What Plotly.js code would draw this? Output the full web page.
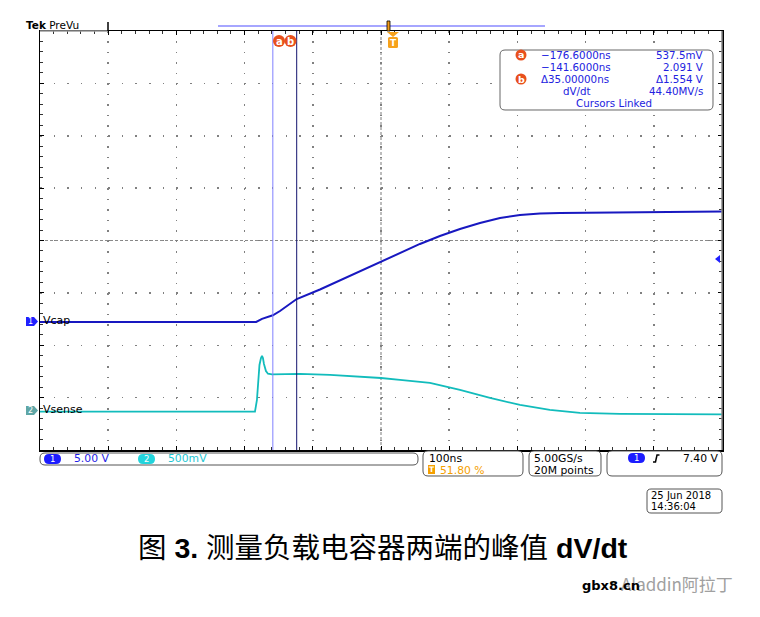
<!DOCTYPE html>
<html><head><meta charset="utf-8">
<script src="https://cdn.plot.ly/plotly-3.0.1.min.js"></script>
<style>html,body{margin:0;padding:0;background:#fff}</style>
</head><body><div id="chart" style="width:760px;height:617px"></div>
<script>
// ---------------- data ----------------
// Channel 1 : Vcap (time in ns, value in V)
const vcapTime  = [-518, -201, -192.5, -176.6, -166.1, -141.6, -107.5, -63.6, -18.0, 9.8, 39.1, 68.4, 97.8, 127.1, 156.5, 185.8, 215.1, 244.4, 303.1, 376.4, 482];
const vcapVolts = [-0.1, -0.1, 0.2, 0.54, 0.95, 2.09, 3.0, 4.3, 5.63, 6.49, 7.35, 8.11, 8.78, 9.35, 9.83, 10.11, 10.26, 10.31, 10.35, 10.40, 10.45];
// Channel 2 : Vsense (time in ns, value in V)
const vsenseTime  = [-518, -202.8, -199.9, -198.4, -196.2, -194.0, -192.5, -191.1, -189.6, -186.7, -183.7, -177.9, -136.8, -92.8, -48.8, -18.0, 9.8, 53.8, 97.8, 141.8, 185.8, 229.6, 273.6, 332.3, 482];
const vsenseVolts = [-0.016, -0.016, 0.095, 0.286, 0.429, 0.496, 0.515, 0.496, 0.439, 0.372, 0.346, 0.339, 0.344, 0.334, 0.320, 0.305, 0.286, 0.258, 0.191, 0.115, 0.048, 0.0, -0.029, -0.038, -0.043];
// cursors (ns)
const cursorTimes = [-176.6, -141.6];
// readout texts
const readoutTimes  = ["\u2212176.6000ns", "\u2212141.6000ns", "\u039435.00000ns", "dV/dt"];
const readoutValues = ["537.5mV", "2.091 V", "\u03941.554 V", "44.40MV/s"];
const readoutFooter = "Cursors Linked";
const channelNames = ["Vcap", "Vsense"];
const statusTexts = {ch1: "5.00 V", ch2: "500mV", timebase: "100ns", trigPos: "51.80 %", rate: "5.00GS/s", points: "20M points", trigLevel: "7.40 V", date: "25 Jun 2018", time: "14:36:04"};
const captionText = "图 <b>3.</b> 测量负载电容器两端的峰值 <b>dV/dt</b>";

// ---------------- scope settings ----------------
const timePerDiv = 100, trigPct = 0.518;
const ch1PerDiv = 5, ch1Offset = 1.536;     // divisions below centre
const ch2PerDiv = 0.5, ch2Offset = 3.235;

// ---------------- pixel helpers for decorations ----------------
const L = 40, R = 722, T = 31, B = 450;
const px = x => (x - L) / (R - L);
const py = y => (B - y) / (B - T);
const P = (x, y) => px(x).toFixed(5) + ',' + py(y).toFixed(5);
function rr(x0, y0, x1, y1, r) {
  return 'M' + P(x0 + r, y0) + ' L' + P(x1 - r, y0) + ' Q' + P(x1, y0) + ' ' + P(x1, y0 + r) +
    ' L' + P(x1, y1 - r) + ' Q' + P(x1, y1) + ' ' + P(x1 - r, y1) +
    ' L' + P(x0 + r, y1) + ' Q' + P(x0, y1) + ' ' + P(x0, y1 - r) +
    ' L' + P(x0, y0 + r) + ' Q' + P(x0, y0) + ' ' + P(x0 + r, y0) + ' Z';
}
function poly(pts) { return 'M' + pts.map(p => P(p[0], p[1])).join(' L') + ' Z'; }
const shapes = [];
const anns = [];
function box(x0, y0, x1, y1, r, line, fill, lw) {
  shapes.push({type: 'path', xref: 'paper', yref: 'paper', path: rr(x0, y0, x1, y1, r),
    line: {color: line || '#555', width: lw === undefined ? 1 : lw}, fillcolor: fill || 'rgba(0,0,0,0)', layer: 'above'});
}
function txt(text, x, y, anchor, size, color, extra) {
  anns.push(Object.assign({text: text, xref: 'paper', yref: 'paper', x: px(x), y: py(y), xanchor: anchor || 'left', yanchor: 'middle',
    showarrow: false, borderpad: 0, font: {family: 'DejaVu Sans', size: size || 10.5, color: color || '#000'}}, extra || {}));
}
function lineP(x0, y0, x1, y1, color, w, dash) {
  shapes.push({type: 'line', xref: 'paper', yref: 'paper', x0: px(x0), y0: py(y0), x1: px(x1), y1: py(y1),
    line: {color: color, width: w, dash: dash || 'solid'}, layer: 'above'});
}

const tMin = -trigPct * 10 * timePerDiv, tMax = tMin + 10 * timePerDiv, tCentre = tMin + 5 * timePerDiv;
const y1Range = [(-4 + ch1Offset) * ch1PerDiv, (4 + ch1Offset) * ch1PerDiv];
const y2Range = [(-4 + ch2Offset) * ch2PerDiv, (4 + ch2Offset) * ch2PerDiv];

// centre dashed lines
shapes.push({type: 'line', xref: 'paper', yref: 'paper', x0: 0, x1: 1, y0: 0.5, y1: 0.5, line: {color: '#8a8a8a', width: 1, dash: '3px,2px'}, layer: 'below'});
shapes.push({type: 'line', xref: 'paper', yref: 'paper', x0: 0.5, x1: 0.5, y0: 0, y1: 1, line: {color: '#7a7a7a', width: 1, dash: '3px,2px'}, layer: 'below'});
// cursors
shapes.push({type: 'line', xref: 'x', yref: 'paper', x0: cursorTimes[0], x1: cursorTimes[0], y0: 0, y1: 1, line: {color: '#8080ff', width: 1}, layer: 'above'});
shapes.push({type: 'line', xref: 'x', yref: 'paper', x0: cursorTimes[1], x1: cursorTimes[1], y0: 0, y1: 1, line: {color: '#14146e', width: 1}, layer: 'above'});
// right border grey, top-left grey segment
lineP(722, 31, 722, 450, '#8c8c8c', 1.5);
lineP(40, 31, 108, 31, '#9a9a9a', 1.5);
lineP(108, 22, 108, 31, '#000', 1.5);
// record bar
lineP(218, 26, 545, 26, '#8888ff', 1.5);
shapes.push({type: 'path', xref: 'paper', yref: 'paper', path: poly([[387, 21], [390, 21], [390, 31], [387, 31]]), fillcolor: '#f29a1a', line: {color: '#000', width: 0.8}, layer: 'above'});
// trigger T marker
shapes.push({type: 'path', xref: 'paper', yref: 'paper', path: poly([[387, 32], [399, 32], [393, 37]]), fillcolor: '#f7a21b', line: {width: 0}, layer: 'above'});
shapes.push({type: 'path', xref: 'paper', yref: 'paper', path: rr(388, 37, 398, 48, 1.5), fillcolor: '#f7a21b', line: {width: 0}, layer: 'above'});
txt('<b>T</b>', 393, 43, 'center', 9, '#fff');
// cursor a/b circles
function circ(cx, cy, r, color) {
  shapes.push({type: 'circle', xref: 'paper', yref: 'paper', x0: px(cx - r), x1: px(cx + r), y0: py(cy + r), y1: py(cy - r), fillcolor: color, line: {width: 0}, layer: 'above'});
}
circ(279, 41, 6, '#e8501c'); circ(290.5, 41, 6, '#e8501c');
txt('<b>a</b>', 279, 41, 'center', 10, '#fff');
txt('<b>b</b>', 290.5, 41, 'center', 10, '#fff');

// readout box
box(500, 50, 713, 110, 5, '#666', '#fff', 1);
circ(521, 55, 5.5, '#e8501c'); txt('<b>a</b>', 521, 55, 'center', 9.5, '#fff');
circ(521, 79, 5.5, '#e8501c'); txt('<b>b</b>', 521, 79, 'center', 9.5, '#fff');
const rowsY = [55, 67, 79, 90.5];
const blue = '#2222e0';
for (let i = 0; i < 4; i++) {
  txt(readoutTimes[i], i === 3 ? 562 : 540, rowsY[i], 'left', 10.3, blue);
  txt(readoutValues[i], 704, rowsY[i], 'right', 10.3, blue);
}
txt(readoutFooter, 614, 102.5, 'center', 10.3, blue);

// Tek PreVu
txt('<b>Tek</b> PreVu', 25, 25, 'left', 10.5, '#000');

// channel markers on left
shapes.push({type: 'path', xref: 'paper', yref: 'paper', path: poly([[26, 317], [34, 317], [38, 321.5], [34, 326], [26, 326]]), fillcolor: '#2020ff', line: {width: 0}, layer: 'above'});
txt('1', 30, 321.5, 'center', 8, '#fff');
shapes.push({type: 'path', xref: 'paper', yref: 'paper', path: poly([[26, 406], [34, 406], [38, 410.5], [34, 415], [26, 415]]), fillcolor: '#5fa6a6', line: {width: 0}, layer: 'above'});
txt('2', 30, 410.5, 'center', 8, '#fff');
txt(channelNames[0], 42, 320.5, 'left', 11, '#000');
txt(channelNames[1], 42, 409.5, 'left', 11, '#000');
// trigger level arrow on right
shapes.push({type: 'path', xref: 'paper', yref: 'paper', path: poly([[715, 259], [720, 255], [720, 263]]), fillcolor: '#2020ff', line: {width: 0}, layer: 'above'});

// status bar
box(40, 453, 418, 465, 5, '#555', '#fff', 1);
box(44, 454, 61, 464, 5, '#1c1cff', '#1c1cff', 0);
txt('1', 52.5, 459, 'center', 8.5, '#fff');
txt(statusTexts.ch1, 73, 459, 'left', 10.8, '#1e1ee6');
box(138, 454, 155, 464, 5, '#22d4dc', '#22d4dc', 0);
txt('2', 146.5, 459, 'center', 8.5, '#fff');
txt(statusTexts.ch2, 167, 459, 'left', 10.8, '#1ec6d2');

box(423, 451, 523, 476, 5, '#555', '#fff', 1);
txt(statusTexts.timebase, 428, 458, 'left', 10.8, '#000');
shapes.push({type: 'path', xref: 'paper', yref: 'paper', path: poly([[428, 465], [435, 465], [435, 474], [428, 474]]), fillcolor: '#f5a000', line: {width: 0}, layer: 'above'});
txt('<b>T</b>', 431.5, 469.5, 'center', 7.5, '#fff');
txt(statusTexts.trigPos, 439, 470, 'left', 10.8, '#f5a000');

box(529, 451, 601, 476, 5, '#555', '#fff', 1);
txt(statusTexts.rate, 533, 458, 'left', 10.8, '#000');
txt(statusTexts.points, 533, 470, 'left', 10.8, '#000');

box(607, 451, 722, 476, 5, '#555', '#fff', 1);
box(628, 453, 645, 463, 5, '#1c1cff', '#1c1cff', 0);
txt('1', 636.5, 458, 'center', 8.5, '#fff');
shapes.push({type: 'path', xref: 'paper', yref: 'paper', path: 'M' + P(653, 462) + ' L' + P(655.5, 462) + ' L' + P(657, 455) + ' L' + P(659.5, 455), line: {color: '#000', width: 1.5}, layer: 'above'});
txt(statusTexts.trigLevel, 719, 458, 'right', 10.8, '#000');

box(647, 489, 722, 513, 4, '#555', '#fff', 1);
txt(statusTexts.date, 650, 495.5, 'left', 10, '#000');
txt(statusTexts.time, 650, 506.5, 'left', 10, '#000');

// caption
txt(captionText, 383, 548, 'center', 28.5, '#000', {font: {family: 'Liberation Sans, Noto Sans CJK SC', size: 28.5, color: '#000'}});
// watermark
txt('Aladdin阿拉丁', 620, 583, 'left', 17, '#9a9a9a', {font: {family: 'Noto Sans CJK SC', size: 17, color: '#a0a0a0'}});
txt('<b>gbx8.cn</b>', 581, 585, 'left', 13, '#000', {font: {family: 'DejaVu Sans', size: 13, color: '#000'}});

const traces = [
  {x: vcapTime, y: vcapVolts, type: 'scatter', mode: 'lines', line: {color: '#1818c0', width: 2}, xaxis: 'x', yaxis: 'y', name: channelNames[0]},
  {x: vsenseTime, y: vsenseVolts, type: 'scatter', mode: 'lines', line: {color: '#12bcbc', width: 1.8}, xaxis: 'x', yaxis: 'y2', name: channelNames[1]}
];

const layout = {
  width: 760, height: 617,
  margin: {l: L, r: 760 - R, t: T, b: 617 - B, pad: 0},
  paper_bgcolor: '#fff', plot_bgcolor: '#fff',
  showlegend: false,
  xaxis: {range: [tMin, tMax], tick0: tCentre, dtick: timePerDiv, showticklabels: false, ticks: 'inside', ticklen: 4, tickcolor: '#000', tickwidth: 1,
    showgrid: true, gridcolor: '#808080', gridwidth: 1.5, griddash: '1.5px,8.98px', zeroline: false,
    showline: true, linecolor: '#000', linewidth: 1.5, mirror: 'ticks',
    minor: {tick0: tCentre, dtick: timePerDiv / 5, ticks: 'inside', ticklen: 3, tickcolor: '#333', showgrid: false}},
  yaxis: {range: y1Range, tick0: ch1Offset * ch1PerDiv, dtick: ch1PerDiv, showticklabels: false, ticks: 'inside', ticklen: 4, tickcolor: '#000',
    showgrid: true, gridcolor: '#808080', gridwidth: 1.5, griddash: '1.5px,12.14px', zeroline: false,
    showline: true, linecolor: '#000', linewidth: 1.5, mirror: 'ticks',
    minor: {tick0: ch1Offset * ch1PerDiv, dtick: ch1PerDiv / 5, ticks: 'inside', ticklen: 3, tickcolor: '#333', showgrid: false}},
  yaxis2: {range: y2Range, overlaying: 'y', showgrid: false, showticklabels: false, ticks: '', zeroline: false, showline: false},
  shapes: shapes,
  annotations: anns
};
Plotly.newPlot('chart', traces, layout, {staticPlot: true, displayModeBar: false});
</script></body></html>
